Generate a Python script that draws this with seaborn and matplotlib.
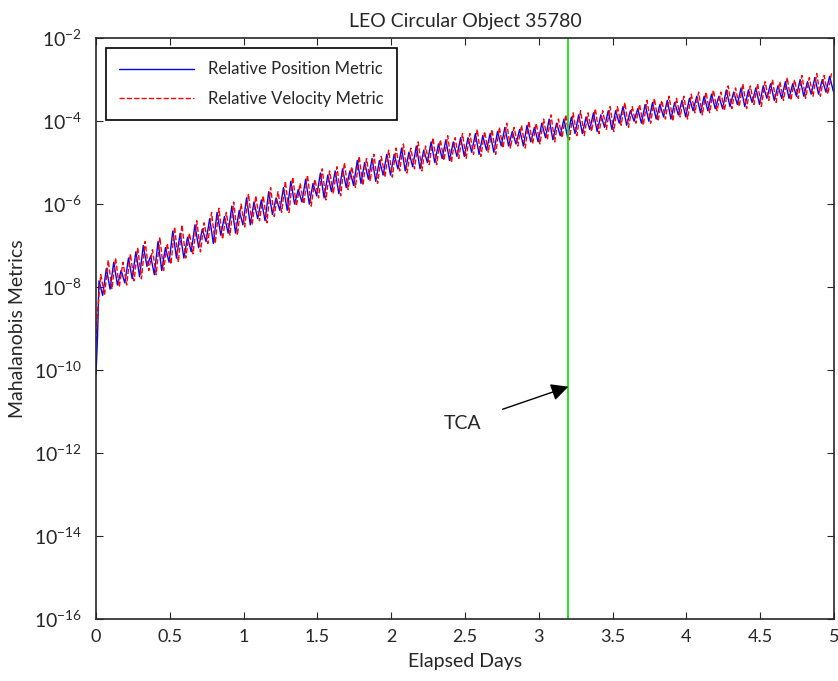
import numpy as np
import pandas as pd
import matplotlib
matplotlib.use("Agg")
import matplotlib.pyplot as plt
import seaborn as sns
from matplotlib.ticker import FixedLocator, NullLocator

# log10 of the metrics
pos_start_days = [0.0, 0.01]
pos_start_log = [-10.1, -9.2]
pos_log = [
    -7.85, -8.2, -7.55, -8.05, -7.4, -7.95, -7.6, -7.9, -7.3, -7.8,
    -7.15, -7.75, -7.0, -7.5, -7.25, -7.7, -6.9, -7.6, -7.05, -7.4,
    -6.65, -7.3, -6.7, -7.3, -6.8, -7.15, -6.5, -7.05, -6.6, -6.9,
    -6.35, -6.95, -6.2, -6.75, -6.3, -6.7, -6.05, -6.7, -6.15, -6.5,
    -5.85, -6.5, -5.95, -6.35, -5.9, -6.4, -5.7, -6.25, -5.85, -6.15,
    -5.6, -6.15, -5.45, -6.0, -5.65, -5.95, -5.4, -6.0, -5.5, -5.8,
    -5.25, -5.85, -5.3, -5.7, -5.2, -5.75, -5.15, -5.6, -5.2, -5.55,
    -4.95, -5.5, -5.0, -5.4, -4.9, -5.45, -4.95, -5.3, -4.8, -5.3,
    -4.8, -5.15, -4.65, -5.2, -4.75, -5.1, -4.6, -5.15, -4.7, -5.0,
    -4.5, -5.0, -4.55, -4.9, -4.45, -4.95, -4.5, -4.85, -4.4, -4.85,
    -4.4, -4.75, -4.3, -4.8, -4.35, -4.7, -4.3, -4.75, -4.25, -4.6,
    -4.15, -4.6, -4.25, -4.55, -4.2, -4.6, -4.1, -4.5, -4.15, -4.5,
    -4.05, -4.4, -3.95, -4.45, -4.05, -4.35, -3.95, -4.4, -3.9, -4.3,
    -3.85, -4.3, -3.9, -4.2, -3.8, -4.25, -3.85, -4.15, -3.75, -4.2,
    -3.75, -4.05, -3.65, -4.1, -3.75, -4.0, -3.7, -4.05, -3.6, -4.0,
    -3.55, -3.95, -3.6, -3.9, -3.5, -3.95, -3.55, -3.85, -3.5, -3.9,
    -3.45, -3.75, -3.4, -3.8, -3.4, -3.75, -3.35, -3.7, -3.4, -3.7,
    -3.25, -3.65, -3.3, -3.6, -3.2, -3.65, -3.25, -3.55, -3.2, -3.6,
    -3.15, -3.45, -3.1, -3.5, -3.15, -3.45, -3.05, -3.45, -3.1, -3.4,
    -3.0, -3.4, -3.05, -3.35, -2.95, -3.35, -3.0, -3.3, -2.92, -3.28,
]

vel_start_days = [0.0, 0.01]
vel_start_log = [-9.3, -8.6]
vel_log = [
    -7.7, -8.2, -7.35, -8.05, -7.3, -8.0, -7.4, -7.95, -7.2, -7.85,
    -7.05, -7.8, -6.9, -7.6, -7.1, -7.7, -6.8, -7.6, -6.95, -7.45,
    -6.55, -7.4, -6.5, -7.3, -6.7, -7.2, -6.4, -7.15, -6.45, -6.95,
    -6.2, -6.95, -6.1, -6.85, -6.2, -6.75, -5.95, -6.75, -6.0, -6.55,
    -5.75, -6.5, -5.8, -6.4, -5.8, -6.45, -5.6, -6.3, -5.7, -6.2,
    -5.45, -6.2, -5.35, -6.05, -5.5, -6.0, -5.3, -6.05, -5.4, -5.85,
    -5.15, -5.9, -5.2, -5.75, -5.1, -5.8, -5.0, -5.65, -5.1, -5.6,
    -4.85, -5.55, -4.9, -5.45, -4.8, -5.5, -4.85, -5.35, -4.7, -5.35,
    -4.65, -5.2, -4.55, -5.25, -4.65, -5.15, -4.5, -5.2, -4.6, -5.05,
    -4.4, -5.05, -4.45, -4.95, -4.35, -5.0, -4.4, -4.9, -4.3, -4.9,
    -4.3, -4.8, -4.2, -4.85, -4.25, -4.75, -4.2, -4.8, -4.15, -4.65,
    -4.05, -4.65, -4.15, -4.6, -4.1, -4.65, -4.0, -4.55, -4.05, -4.55,
    -3.95, -4.45, -3.85, -4.5, -3.95, -4.4, -3.85, -4.45, -3.8, -4.35,
    -3.75, -4.35, -3.8, -4.25, -3.7, -4.3, -3.75, -4.2, -3.65, -4.25,
    -3.65, -4.1, -3.55, -4.15, -3.65, -4.05, -3.6, -4.1, -3.5, -4.05,
    -3.45, -4.0, -3.5, -3.95, -3.4, -4.0, -3.45, -3.9, -3.4, -3.95,
    -3.35, -3.8, -3.3, -3.85, -3.3, -3.8, -3.25, -3.75, -3.3, -3.75,
    -3.15, -3.7, -3.2, -3.65, -3.1, -3.7, -3.15, -3.6, -3.1, -3.65,
    -3.05, -3.5, -3.0, -3.55, -3.05, -3.5, -2.95, -3.5, -3.0, -3.45,
    -2.9, -3.45, -2.95, -3.4, -2.85, -3.4, -2.9, -3.35, -2.85, -3.33,
]

tca_day = 3.2
x_ticks = [0, 0.5, 1, 1.5, 2, 2.5, 3, 3.5, 4, 4.5, 5]
y_exps = [-16, -14, -12, -10, -8, -6, -4, -2]

sns.set_style("ticks")
plt.rcParams['font.family'] = ['Lato', 'DejaVu Sans']
plt.rcParams['mathtext.fontset'] = 'custom'
plt.rcParams['mathtext.rm'] = 'Lato'
plt.rcParams['mathtext.default'] = 'regular'

# sample grid of the propagation (every 0.025 day)
pos_days = pos_start_days + list(0.02 + 0.025 * np.arange(len(pos_log)))
vel_days = vel_start_days + list(0.0325 + 0.025 * np.arange(len(vel_log)))
pos = pd.DataFrame({'days': pos_days, 'metric': 10.0 ** np.array(pos_start_log + pos_log)})
vel = pd.DataFrame({'days': vel_days, 'metric': 10.0 ** np.array(vel_start_log + vel_log)})
vel = vel[vel['days'] <= 5]

fig = plt.figure(figsize=(8.38, 6.81), dpi=100)
ax = fig.add_axes([0.1146, 0.091, 0.8807, 0.853])

sns.lineplot(data=pos, x='days', y='metric', color='blue', linewidth=1,
             label='Relative Position Metric', ax=ax)
sns.lineplot(data=vel, x='days', y='metric', color='red', linewidth=1,
             linestyle='--', dashes=(4, 3), label='Relative Velocity Metric', ax=ax)
ax.axvline(tca_day, color='#00e000', linewidth=1.2)

ax.set_yscale('log')
ax.set_xlim(0, 5)
ax.set_ylim(1e-16, 1e-2)
ax.xaxis.set_major_locator(FixedLocator(x_ticks))
ax.set_xticklabels([f'{t:g}' for t in x_ticks])
ax.yaxis.set_major_locator(FixedLocator([10.0 ** e for e in y_exps]))
ax.set_yticklabels([f'$10^{{{e}}}$' for e in y_exps])
ax.yaxis.set_minor_locator(NullLocator())
ax.tick_params(direction='in', top=True, right=True, length=5)
ax.tick_params(axis='x', labelsize=13, pad=7)
ax.tick_params(axis='y', labelsize=14, pad=10)
for s in ax.spines.values():
    s.set_linewidth(1.2)
    s.set_visible(True)

ax.annotate('TCA', xy=(tca_day, 10 ** -10.4), xytext=(2.48, 10 ** -11.28),
            ha='center', va='center', fontsize=14,
            arrowprops=dict(arrowstyle='-|>', color='black', lw=1,
                            mutation_scale=26, shrinkA=14, shrinkB=0))

ax.set_title('LEO Circular Object 35780', fontsize=14, pad=8)
ax.set_xlabel('Elapsed Days', fontsize=14, labelpad=6)
ax.set_ylabel('Mahalanobis Metrics', fontsize=14, labelpad=6)

leg = ax.legend(loc='upper left', fontsize=12, frameon=True, fancybox=False,
                framealpha=1, edgecolor='black', handlelength=4.5,
                labelspacing=0.8, borderpad=0.8, borderaxespad=0.6)
leg.get_frame().set_linewidth(1.2)

fig.savefig('out.png', dpi=100)
